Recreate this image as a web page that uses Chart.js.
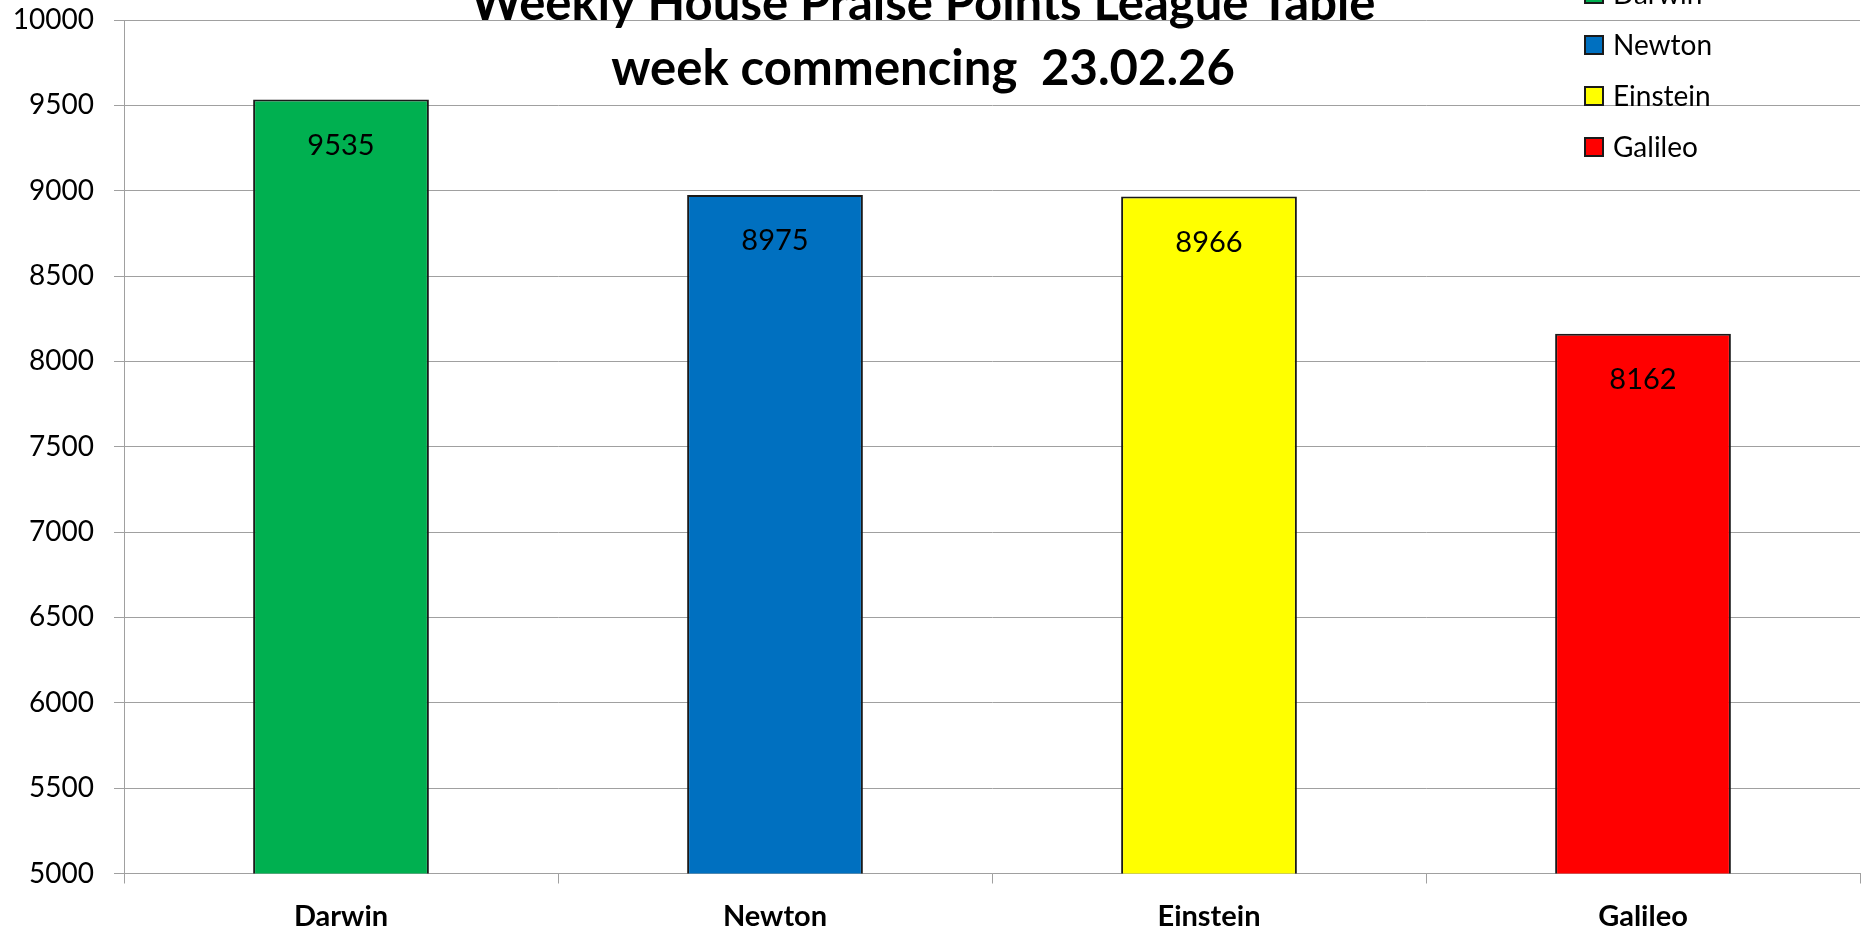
<!DOCTYPE html>
<html>
<head>
<meta charset="utf-8">
<title>Weekly House Praise Points League Table</title>
<script src="https://cdn.jsdelivr.net/npm/chart.js@4.4.1/dist/chart.umd.min.js"></script>
<style>
    html, body { margin: 0; padding: 0; background: #ffffff; }
    canvas { display: block; }
</style>
</head>
<body>
<canvas id="pointsChart" width="1861" height="931"></canvas>
<script>
// Chart data
const houses = ['Darwin', 'Newton', 'Einstein', 'Galileo'];
const points = [9535, 8975, 8966, 8162];
const houseColours = ['#00b050', '#0070c0', '#ffff00', '#ff0000'];
const titleLines = ['Weekly House Praise Points League Table', 'week commencing  23.02.26'];
const yMin = 5000;
const yMax = 10000;
const yStep = 500;

const FONT = "Lato, 'Open Sans', sans-serif";

// Value labels sit inside each bar, a little below its top
const barValuePlugin = {
    id: 'barValues',
    afterDatasetsDraw(chart) {
        const ctx = chart.ctx;
        const meta = chart.getDatasetMeta(0);
        ctx.save();
        ctx.font = '29px ' + FONT;
        ctx.fillStyle = '#000000';
        ctx.textAlign = 'center';
        ctx.textBaseline = 'middle';
        meta.data.forEach((bar, i) => {
            ctx.fillText(String(points[i]), bar.x, bar.y + 46);
        });
        ctx.restore();
    }
};

// Title and legend overlap the plot like the original sheet chart
const overlayPlugin = {
    id: 'overlay',
    afterDraw(chart) {
        const ctx = chart.ctx;
        ctx.save();
        ctx.fillStyle = '#000000';
        ctx.textAlign = 'center';
        ctx.textBaseline = 'alphabetic';
        ctx.font = 'bold 49px ' + FONT;
        ctx.fillText(titleLines[0], 923, 20);
        ctx.fillText(titleLines[1], 923, 85);

        ctx.font = '28px ' + FONT;
        ctx.textAlign = 'left';
        ctx.textBaseline = 'middle';
        houses.forEach((name, i) => {
            const y = -6 + i * 51;
            ctx.fillStyle = houseColours[i];
            ctx.fillRect(1585, y - 9, 18, 18);
            ctx.strokeStyle = '#1a1a1a';
            ctx.lineWidth = 2;
            ctx.strokeRect(1585, y - 9, 18, 18);
            ctx.fillStyle = '#000000';
            ctx.fillText(name, 1613, y + 1);
        });
        ctx.restore();
    }
};

document.addEventListener('DOMContentLoaded', () => {
    const ctx = document.getElementById('pointsChart').getContext('2d');

    new Chart(ctx, {
        type: 'bar',
        data: {
            labels: houses,
            datasets: [{
                label: 'Points',
                data: points,
                backgroundColor: houseColours,
                borderColor: '#1a1a1a',
                borderWidth: 2,
                borderSkipped: false,
                categoryPercentage: 1,
                barPercentage: 0.405
            }]
        },
        options: {
            responsive: false,
            devicePixelRatio: 1,
            animation: false,
            layout: { padding: { top: 20, right: 1, left: 0, bottom: 0 } },
            plugins: {
                legend: { display: false },
                title: { display: false },
                tooltip: { enabled: false }
            },
            scales: {
                y: {
                    min: yMin,
                    max: yMax,
                    ticks: {
                        stepSize: yStep,
                        color: '#000000',
                        font: { family: FONT, size: 28 },
                        padding: 20,
                        callback: (value) => String(value)
                    },
                    grid: { color: '#a0a0a0', lineWidth: 1, tickLength: 10 },
                    border: { color: '#a0a0a0', width: 1 },
                    afterFit(scale) {
                        scale.width = 124;
                        // let the top label hang over the edge instead of pushing the plot down
                        scale.paddingTop = 0;
                        scale.paddingBottom = 0;
                    }
                },
                x: {
                    ticks: {
                        color: '#000000',
                        font: { family: FONT, size: 29, weight: 'bold' },
                        padding: 16
                    },
                    grid: {
                        offset: true,
                        drawOnChartArea: false,
                        color: '#a0a0a0',
                        tickLength: 10
                    },
                    border: { color: '#a0a0a0', width: 1 },
                    afterFit(scale) { scale.height = 57.5; }
                }
            }
        },
        plugins: [barValuePlugin, overlayPlugin]
    });
});
</script>
</body>
</html>
